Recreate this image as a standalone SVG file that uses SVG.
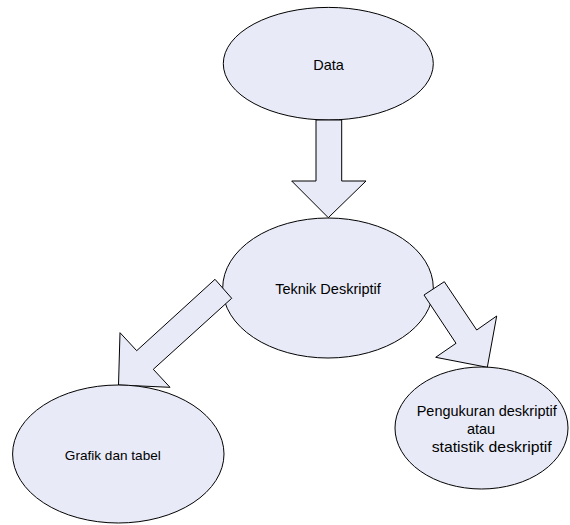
<svg xmlns="http://www.w3.org/2000/svg" width="570" height="525" viewBox="0 0 570 525">
<style>
.shape{fill:#E8EBF7;stroke:#000;stroke-width:1}
.lbl{font-family:"Liberation Sans",Arial,sans-serif;font-size:14.5px;fill:#000;text-anchor:middle;dominant-baseline:central}
</style>
<rect width="570" height="525" fill="#fff"/>
<g id="node-data">
<ellipse class="shape" cx="328.3" cy="63.7" rx="105" ry="56.3"/>
<text class="lbl" x="328.5" y="65">Data</text>
</g>
<g id="node-teknik">
<ellipse class="shape" cx="328" cy="288" rx="105.3" ry="70"/>
<text class="lbl" x="328" y="288.5">Teknik Deskriptif</text>
</g>
<g id="connectors">
<polygon class="shape" points="316,120 341.7,120 341.7,181 366,181 328.3,217.7 291.7,181 316,181"/>
<polygon class="shape" points="215,279.3 231.7,298.3 153.3,369.3 170,387.3 118.5,385 120,332.7 136.7,350.7"/>
<polygon class="shape" points="444.3,281.7 476.7,330 496.7,316 487.3,367.3 435.7,357.3 456,343.3 424,295"/>
</g>
<g id="node-grafik">
<ellipse class="shape" cx="118.3" cy="454" rx="105.7" ry="69"/>
<text class="lbl" x="112.8" y="455" style="font-size:13.6px">Grafik dan tabel</text>
</g>
<g id="node-pengukuran">
<ellipse class="shape" cx="481.5" cy="428" rx="86.5" ry="61"/>
<text class="lbl" x="486.7" y="411" textLength="140" lengthAdjust="spacingAndGlyphs">Pengukuran deskriptif</text>
<text class="lbl" x="481" y="429">atau</text>
<text class="lbl" x="491.7" y="447" textLength="120" lengthAdjust="spacingAndGlyphs">statistik deskriptif</text>
</g>
</svg>
